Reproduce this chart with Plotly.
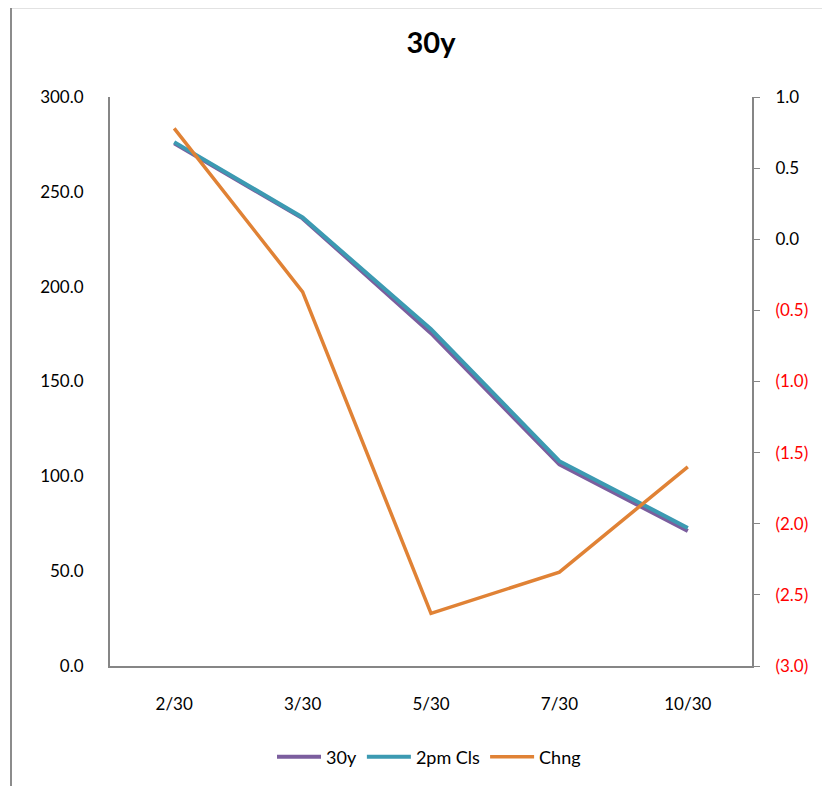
import plotly.graph_objects as go

categories = ["2/30", "3/30", "5/30", "7/30", "10/30"]
y30 = [275.6, 236.0, 175.5, 106.3, 71.2]
pm2_cls = [276.2, 236.5, 177.6, 108.0, 72.8]
chng = [0.78, -0.37, -2.63, -2.34, -1.60]

left_ticks = [0, 50, 100, 150, 200, 250, 300]
right_ticks = [-3.0, -2.5, -2.0, -1.5, -1.0, -0.5, 0.0, 0.5, 1.0]


def fmt_right(v):
    if v < 0:
        return f'<span style="color:#FF0000">({abs(v):.1f})</span>'
    return f"{v:.1f}"


FONT = "Lato"
fig = go.Figure()
fig.add_trace(go.Scatter(x=categories, y=y30, name="30y", mode="lines",
                         line=dict(color="#7B5E9E", width=4)))
fig.add_trace(go.Scatter(x=categories, y=pm2_cls, name="2pm Cls", mode="lines",
                         line=dict(color="#3C9AB2", width=4)))
fig.add_trace(go.Scatter(x=categories, y=chng, name="Chng", mode="lines", yaxis="y2",
                         line=dict(color="#E08235", width=3.5)))

fig.update_layout(
    width=822, height=778,
    margin=dict(l=102, r=78, t=89, b=119),
    paper_bgcolor="white", plot_bgcolor="white",
    font=dict(family=FONT, size=17, color="#000000"),
    title=dict(text="<b>30y</b>", x=(431 - 8) / 822, xanchor="center",
               y=1 - (35 / 778), yanchor="middle",
               font=dict(family=FONT, size=29, color="#000000")),
    showlegend=True,
    legend=dict(orientation="h", x=(429 - 110) / 642, xanchor="center",
                y=-(757 - 667) / 570, yanchor="middle",
                font=dict(family=FONT, size=18), itemwidth=44, tracegroupgap=0),
    xaxis=dict(type="category", range=[-0.5, 4.5], showgrid=False, showline=True,
               linecolor="#868686", linewidth=2, ticks="", ticklabelstandoff=22,
               tickfont=dict(family=FONT, size=17)),
    yaxis=dict(range=[0, 300], tickvals=left_ticks,
               ticktext=[f"{v:.1f}" for v in left_ticks],
               showgrid=False, zeroline=False, showline=True, linecolor="#868686",
               linewidth=2, ticks="", ticklabelstandoff=21,
               tickfont=dict(family=FONT, size=17)),
    yaxis2=dict(range=[-3, 1], overlaying="y", side="right", tickvals=right_ticks,
                ticktext=[fmt_right(v) for v in right_ticks],
                showgrid=False, zeroline=False, showline=True, linecolor="#868686",
                linewidth=2, ticks="outside", ticklen=6, tickcolor="#868686",
                ticklabelstandoff=12, tickfont=dict(family=FONT, size=17)),
)

# outer chart border (Excel chart area frame)
fig.add_shape(type="rect", xref="paper", yref="paper",
              x0=-99 / 642, x1=1 + 100 / 642, y0=-140 / 570, y1=1 + 90 / 570,
              line=dict(color="#8C8C8C", width=2), fillcolor="rgba(0,0,0,0)",
              layer="below")

fig.write_html("out.html")
